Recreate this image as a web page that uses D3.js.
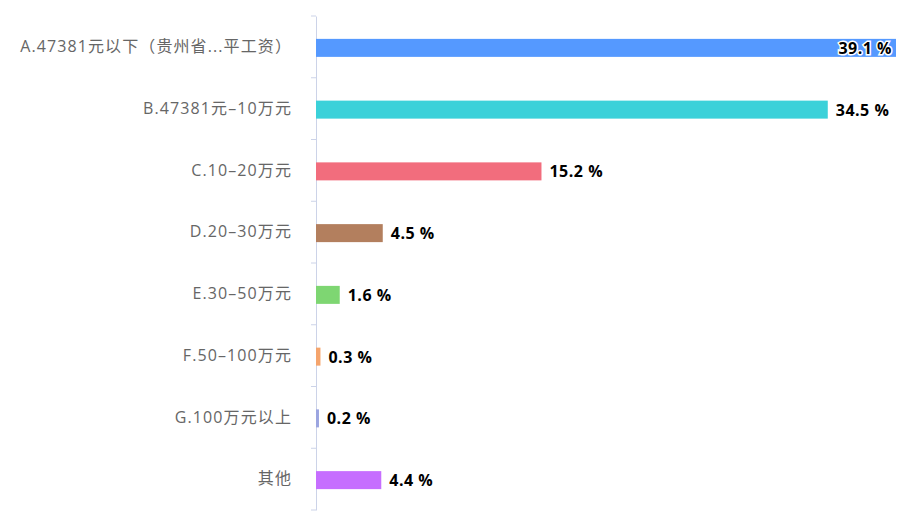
<!DOCTYPE html><html><head><meta charset="utf-8"><script src="https://cdn.jsdelivr.net/npm/d3@7"></script>
<style>body{margin:0;background:#fff}text{font-family:"Open Sans","Noto Sans CJK SC",sans-serif}</style></head><body><svg id="c" width="912" height="518"></svg>
<script>
const categories=["A.47381元以下（贵州省...平工资）","B.47381元–10万元","C.10–20万元","D.20–30万元","E.30–50万元","F.50–100万元","G.100万元以上","其他"];
const values=[39.1,34.5,15.2,4.5,1.6,0.3,0.2,4.4];
const colors=["#5599ff","#3bd1d9","#f26d7d","#b37f5e","#7ed672","#f5a46c","#9ba5e0","#c66eff"];
const svg=d3.select("#c");
const x=d3.scaleLinear().domain([0,39.1]).range([316,896]);
const y=d3.scaleBand().domain(categories).range([16,510]);
const ax=svg.append("g").attr("transform","translate(316,0)").call(d3.axisLeft(y).tickSize(0).tickPadding(24));
ax.select(".domain").attr("stroke","#ccd3e8");
ax.selectAll("text").attr("fill","#666").attr("font-size",16).attr("letter-spacing","1.1px");
svg.selectAll("line.t").data(d3.range(categories.length+1)).join("line")
 .attr("x1",311).attr("x2",316).attr("y1",i=>16+i*y.step()).attr("y2",i=>16+i*y.step()).attr("stroke","#ccd3e8");
const bh=18;
svg.selectAll("rect.b").data(values).join("rect").attr("x",x(0)).attr("y",(d,i)=>y(categories[i])+y.bandwidth()/2-bh/2+1)
 .attr("width",d=>x(d)-x(0)).attr("height",bh).attr("fill",(d,i)=>colors[i]);
svg.selectAll("text.v").data(values).join("text").attr("font-size",16).attr("font-weight","bold").attr("letter-spacing","0.5px")
 .attr("y",(d,i)=>y(categories[i])+y.bandwidth()/2+7)
 .attr("x",(d,i)=>i===0?x(d)-4:x(d)+8).attr("text-anchor",(d,i)=>i===0?"end":"start")
 .attr("fill","#000").attr("stroke",(d,i)=>i===0?"#fff":"none").attr("stroke-width",3).attr("paint-order","stroke")
 .text(d=>d+" %");
</script></body></html>
